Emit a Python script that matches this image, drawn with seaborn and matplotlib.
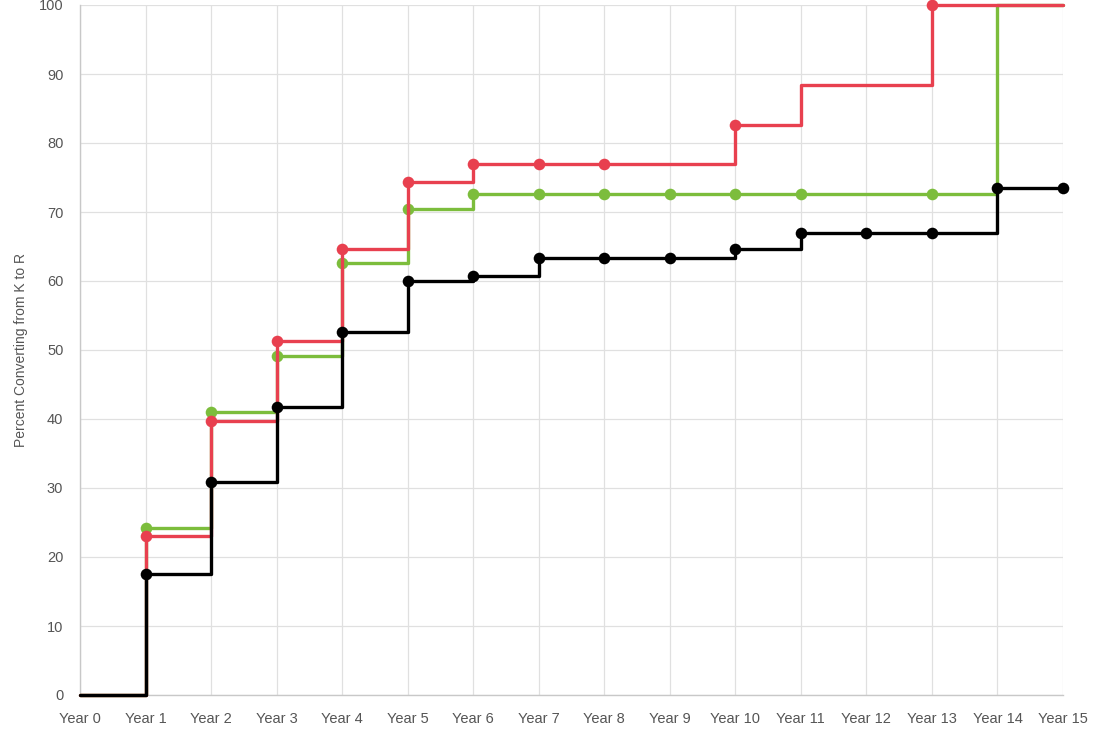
import pandas as pd
import matplotlib.pyplot as plt
import seaborn as sns

# Values (percent converting, years 0..15)
years = list(range(16))
year_labels = [f'Year {y}' for y in years]

red_vals = [0, 23.0, 39.7, 51.3, 64.6, 74.3, 76.9, 76.9, 76.9, 76.9, 82.6, 88.4, 88.4, 100, 100, 100]
green_vals = [0, 24.2, 41.0, 49.1, 62.6, 70.4, 72.6, 72.6, 72.6, 72.6, 72.6, 72.6, 72.6, 72.6, 100, 100]
black_vals = [0, 17.6, 30.9, 41.7, 52.6, 60.0, 60.7, 63.3, 63.3, 63.3, 64.7, 66.9, 66.9, 66.9, 73.5, 73.5]

# years where a point marker is shown
red_marks = [1, 2, 3, 4, 5, 6, 7, 8, 10, 13]
green_marks = [1, 2, 3, 4, 5, 6, 7, 8, 9, 10, 11, 13]
black_marks = list(range(1, 16))

series = {
    'green': (green_vals, green_marks, '#7cbd3c'),
    'red': (red_vals, red_marks, '#e8404f'),
    'black': (black_vals, black_marks, '#000000'),
}

sns.set_theme(style='whitegrid')
plt.rcParams['font.family'] = ['Liberation Sans', 'DejaVu Sans']

fig = plt.figure(figsize=(10.95, 7.36), dpi=100)
ax = fig.add_axes([80 / 1095, 1 - 695 / 736, (1063 - 80) / 1095, (695 - 5) / 736])

for i, (name, (vals, marks, color)) in enumerate(series.items()):
    df = pd.DataFrame({'year': years, 'value': vals})
    sns.lineplot(data=df, x='year', y='value', ax=ax, color=color, linewidth=2.4,
                 drawstyle='steps-post', clip_on=False, zorder=4 + 2 * i)
    dm = df[df['year'].isin(marks)]
    sns.scatterplot(data=dm, x='year', y='value', ax=ax, color=color, s=70,
                    edgecolor=color, linewidth=0, clip_on=False, zorder=5 + 2 * i)

ax.set_xlim(0, 15)
ax.set_ylim(0, 100)
ax.set_xticks(years)
ax.set_xticklabels(year_labels)
ax.set_yticks(range(0, 101, 10))
ax.set_xlabel('')
ax.set_ylabel('Percent Converting from K to R', fontsize=10, color='#555555', labelpad=8)

ax.grid(True, color='#e0e0e0', linewidth=0.9)
ax.tick_params(axis='both', which='both', length=8, width=0.9, color='#e0e0e0',
               labelsize=10.5, labelcolor='#555555', pad=4)
for side in ['top', 'right']:
    ax.spines[side].set_visible(False)
for side in ['left', 'bottom']:
    ax.spines[side].set_color('#c8c8c8')
    ax.spines[side].set_linewidth(1.0)

plt.savefig('out.png', dpi=100)
plt.close()
